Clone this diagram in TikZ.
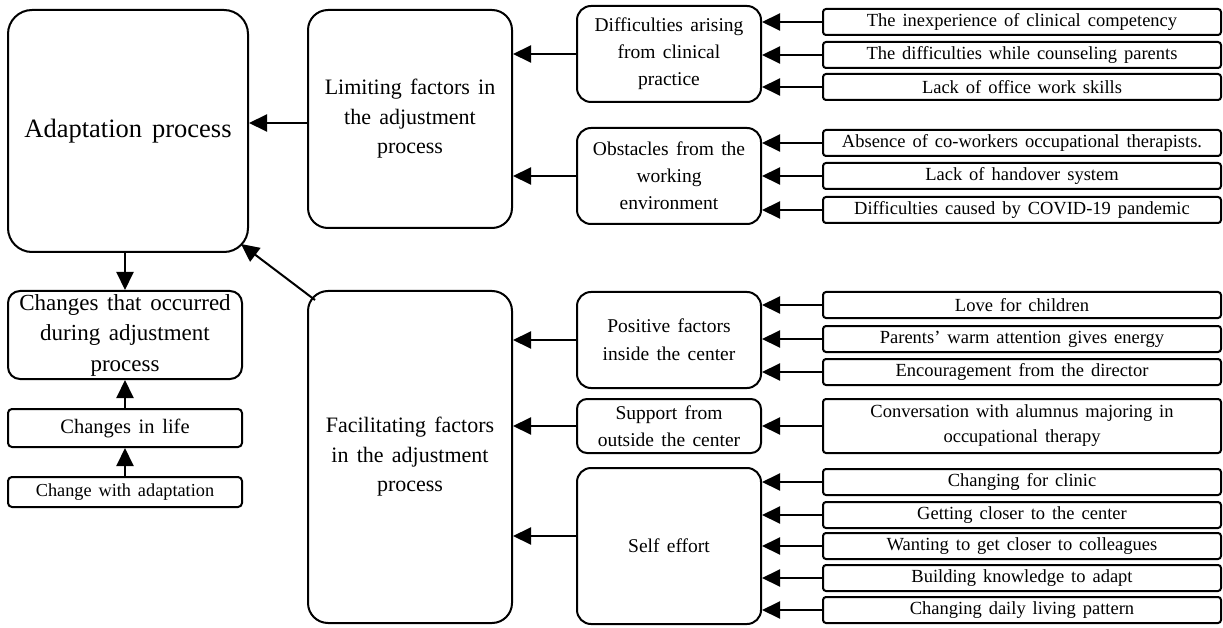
\documentclass[tikz,border=0pt]{standalone}
\usepackage{fontspec}
\setmainfont{Liberation Serif}[WordSpace=1.5]
\usetikzlibrary{arrows.meta}
\newcommand\fsBig{\fontsize{26.5}{30}\selectfont}
\newcommand\fsLarge{\fontsize{22}{29.5}\selectfont}
\newcommand\fsCo{\fontsize{23}{30.5}\selectfont}
\newcommand\fsMid{\fontsize{19.5}{27}\selectfont}
\newcommand\fsRight{\fontsize{18.5}{25}\selectfont}
\begin{document}
\begin{tikzpicture}[x=1pt,y=-1pt,
  bx/.style={draw, line width=2pt, rounded corners=#1, align=center, inner sep=0pt},
  bx/.default=3pt,
  rbox/.style={bx=3pt, minimum width=398pt, minimum height=26pt, font=\fsRight},
  mbox/.style={bx=14pt, minimum width=184pt, font=\fsMid},
  arr/.style={-{Triangle[length=18pt,width=17pt]}, line width=2pt}]
\useasboundingbox (0,0) rectangle (1223,628);

% left column
\node[bx=24pt, minimum width=240pt, minimum height=242pt, font=\fsBig] (ap) at (128,131) {Adaptation process};
\node[bx=12pt, minimum width=234pt, minimum height=88pt, font=\fsCo] (co) at (125,335) {Changes that occurred\\during adjustment\\process};
\node[bx=4pt, minimum width=234pt, minimum height=38pt, font=\fontsize{20.5}{23}\selectfont] (cl) at (125,428) {Changes in life};
\node[bx=4pt, minimum width=234pt, minimum height=30pt, font=\fontsize{18.3}{22}\selectfont] (ca) at (125,492) {Change with adaptation};

% large middle boxes
\node[bx=20pt, minimum width=204pt, minimum height=218pt, font=\fsLarge] (lim) at (410,119) {Limiting factors in\\the adjustment\\process};
\node[bx=20pt, minimum width=204pt, minimum height=332pt, font=\fsLarge] (fac) at (410,457) {Facilitating factors\\in the adjustment\\process};

% category boxes
\node[mbox, minimum height=96pt] (dif) at (669,54) {Difficulties arising\\from clinical\\practice};
\node[mbox, minimum height=96pt] (obs) at (669,176) {Obstacles from the\\working\\environment};
\node[mbox, minimum height=96pt, font=\fontsize{19.5}{28}\selectfont] (pos) at (669,340) {Positive factors\\inside the center};
\node[mbox, bx=10pt, minimum height=54pt] (sup) at (669,426) {Support from\\outside the center};
\node[mbox, minimum height=156pt] (se) at (669,546) {Self effort};

% right boxes
\node[rbox] (r1) at (1022,22) {The inexperience of clinical competency};
\node[rbox] (r2) at (1022,55) {The difficulties while counseling parents};
\node[rbox] (r3) at (1022,87) {Lack of office work skills};
\node[rbox] (r4) at (1022,143) {Absence of co-workers occupational therapists.};
\node[rbox] (r5) at (1022,176) {Lack of handover system};
\node[rbox] (r6) at (1022,210) {Difficulties caused by COVID-19 pandemic};
\node[rbox] (r7) at (1022,305) {Love for children};
\node[rbox] (r8) at (1022,339) {Parents' warm attention gives energy};
\node[rbox] (r9) at (1022,372) {Encouragement from the director};
\node[rbox, minimum height=54pt] (r10) at (1022,426) {Conversation with alumnus majoring in\\occupational therapy};
\node[rbox] (r11) at (1022,482) {Changing for clinic};
\node[rbox] (r12) at (1022,515) {Getting closer to the center};
\node[rbox] (r13) at (1022,546) {Wanting to get closer to colleagues};
\node[rbox] (r14) at (1022,578) {Building knowledge to adapt};
\node[rbox] (r15) at (1022,610) {Changing daily living pattern};

% right -> category arrows
\foreach \r/\m in {r1/dif,r2/dif,r3/dif,r4/obs,r5/obs,r6/obs,r7/pos,r8/pos,r9/pos,r10/sup,r11/se,r12/se,r13/se,r14/se,r15/se}
  \draw[arr] (\r.west) -- (\r.west -| \m.east);

% category -> large box arrows
\draw[arr] (dif.west) -- (dif.west -| lim.east);
\draw[arr] (obs.west) -- (obs.west -| lim.east);
\draw[arr] (pos.west) -- (pos.west -| fac.east);
\draw[arr] (sup.west) -- (sup.west -| fac.east);
\coordinate (seo) at ([yshift=10pt]se.west);
\draw[arr] (seo) -- (seo -| fac.east);

% large boxes -> adaptation
\coordinate (limo) at ([yshift=-4pt]lim.west);
\draw[arr] (limo) -- (limo -| ap.east);
\coordinate (faco) at (315,300);
\coordinate (apin) at (241,244);
\draw[arr] (faco) -- (apin);

% left column arrows
\draw[arr] (ap.south -| co.north) -- (co.north);
\draw[arr] (cl.north) -- (co.south);
\draw[arr] (ca.north) -- (cl.south);
\end{tikzpicture}
\end{document}
